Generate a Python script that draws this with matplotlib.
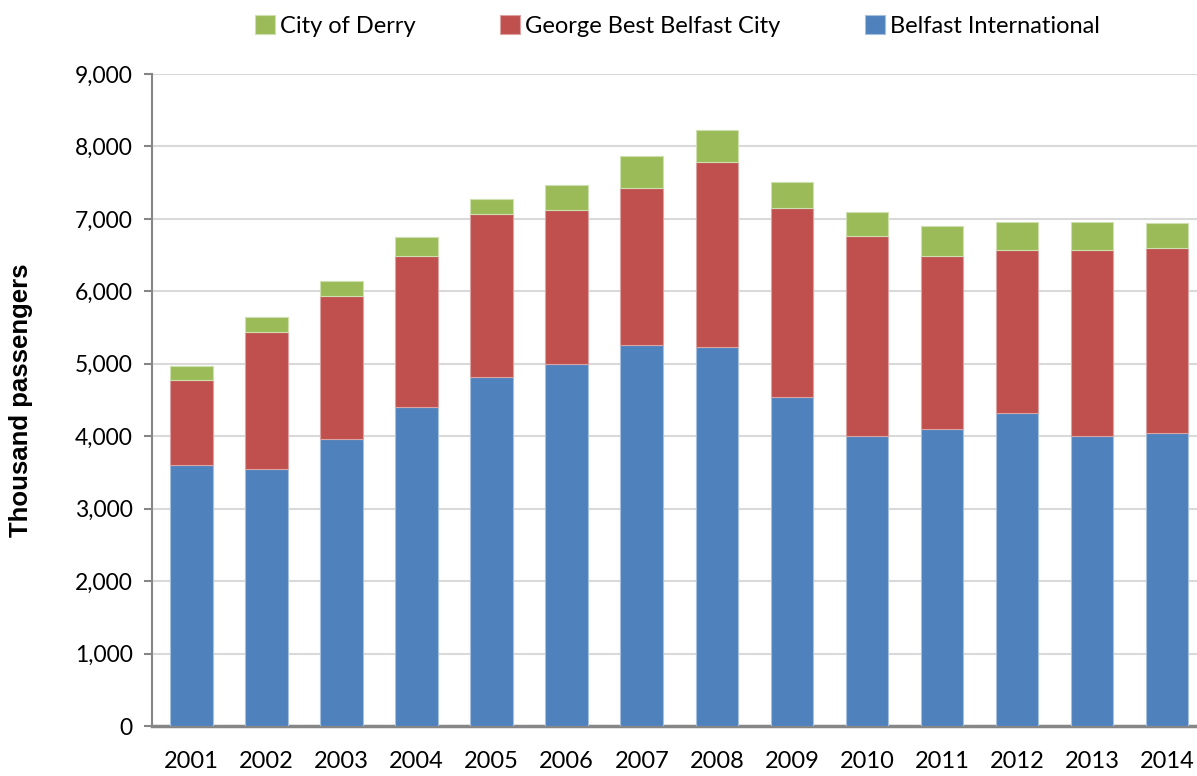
import numpy as np
import matplotlib.pyplot as plt
from matplotlib.ticker import FuncFormatter

years = ['2001', '2002', '2003', '2004', '2005', '2006', '2007',
         '2008', '2009', '2010', '2011', '2012', '2013', '2014']
belfast_intl = [3600, 3550, 3960, 4405, 4815, 5000, 5260,
                5230, 4540, 4010, 4095, 4315, 4010, 4040]
george_best = [1182, 1895, 1982, 2084, 2254, 2130, 2171,
               2558, 2613, 2761, 2397, 2258, 2567, 2562]
city_derry = [193, 199, 199, 263, 207, 332, 442,
              442, 359, 331, 414, 387, 387, 337]

blue = '#4f81bd'
red = '#c0504d'
green = '#9bbb59'

fig = plt.figure(figsize=(11.97, 7.76), dpi=100)
ax = fig.add_axes([0.127, 0.0644, 0.873, 0.8402])

x = np.arange(len(years))
w = 0.567
bi = np.array(belfast_intl)
gb = np.array(george_best)
cd = np.array(city_derry)

b1 = ax.bar(x, bi, w, color=blue, edgecolor='#a7c0de', linewidth=0.8, zorder=3,
            label='Belfast International')
b2 = ax.bar(x, gb, w, bottom=bi, color=red, edgecolor='#dba3a2', linewidth=0.8,
            zorder=3, label='George Best Belfast City')
b3 = ax.bar(x, cd, w, bottom=bi + gb, color=green, edgecolor='#cfe0b0',
            linewidth=0.8, zorder=3, label='City of Derry')

ax.set_xlim(-0.527, 13.4)
ax.set_ylim(0, 9000)
ax.set_yticks(np.arange(0, 9001, 1000))
ax.yaxis.set_major_formatter(FuncFormatter(lambda v, p: f'{int(v):,}'))
ax.set_xticks(x)
ax.set_xticklabels(years)

ax.grid(axis='y', color='#d9d9d9', linewidth=1.5, zorder=0)
for s in ['top', 'right']:
    ax.spines[s].set_visible(False)
ax.spines['left'].set_color('#868686')
ax.spines['left'].set_linewidth(1.5)
ax.spines['bottom'].set_color('#868686')
ax.spines['bottom'].set_linewidth(2.5)
ax.tick_params(axis='y', length=6, width=1.5, color='#868686', labelsize=16.5, pad=8)
ax.tick_params(axis='x', length=0, labelsize=17, pad=18)
for lab in ax.get_xticklabels() + ax.get_yticklabels():
    lab.set_fontfamily('Lato')

ax.set_ylabel('Thousand passengers', fontsize=18.5, fontweight='bold',
              family='Liberation Sans', labelpad=30)

fig.legend(handles=[b3, b2, b1], loc='upper center', bbox_to_anchor=(0.566, 1.008),
           ncol=3, frameon=False, prop={'family': 'Lato', 'size': 17},
           handlelength=0.85, handleheight=0.85, handletextpad=0.2, columnspacing=3.6)

fig.savefig('out.png', dpi=100)
